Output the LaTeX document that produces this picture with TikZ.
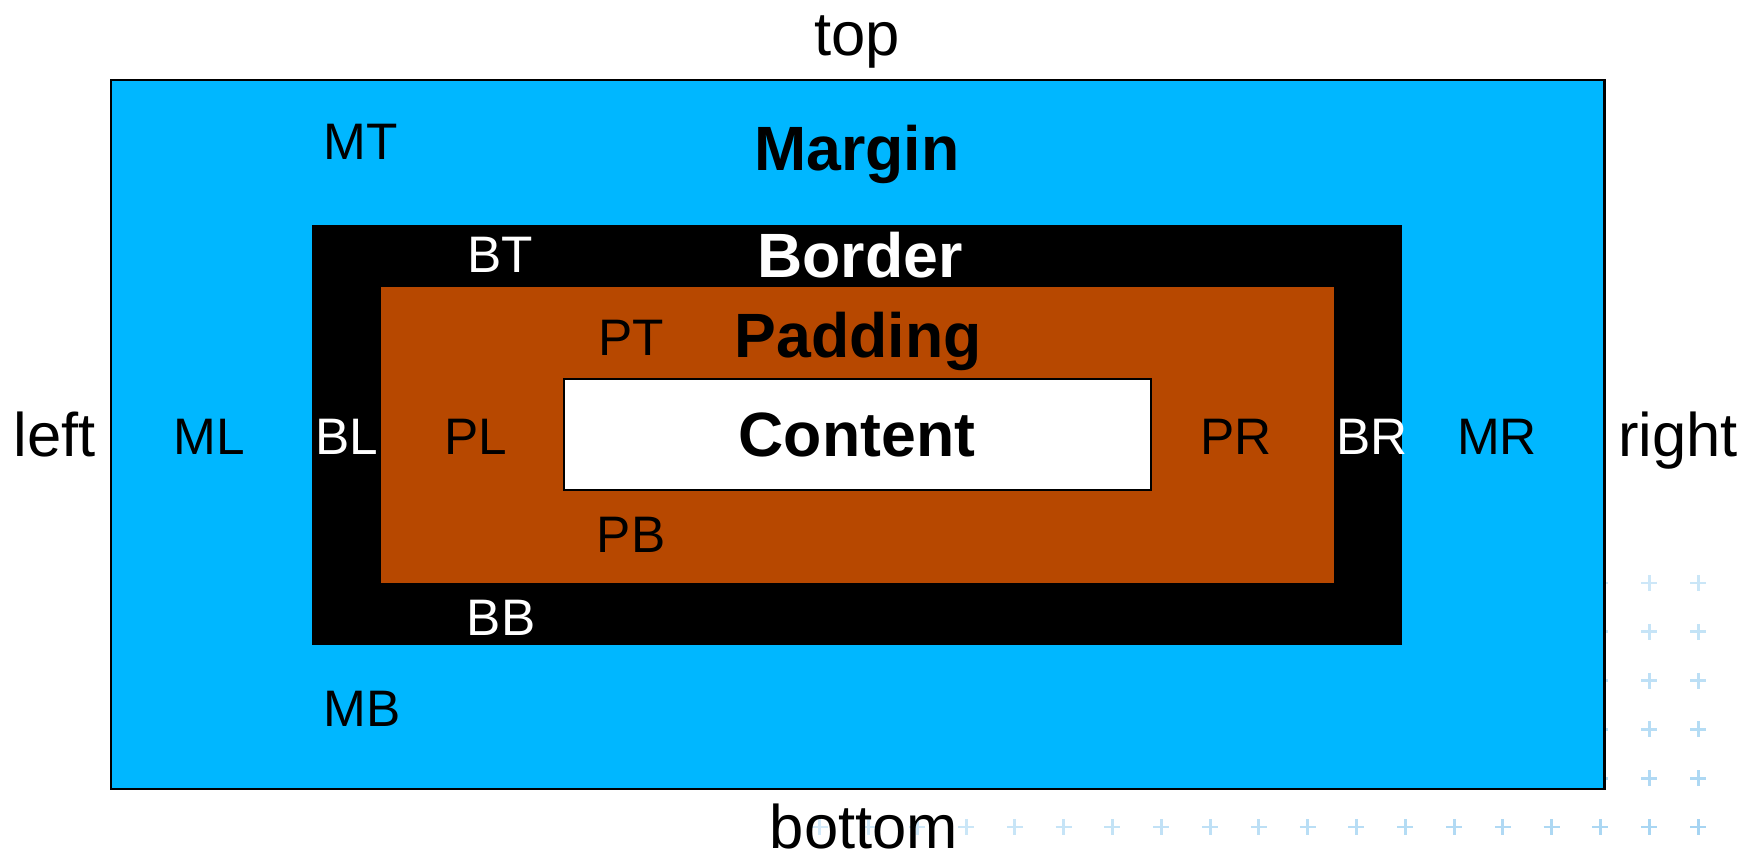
\documentclass[tikz,border=0pt]{standalone}
\usepackage{fontspec}
\setmainfont{Liberation Sans}
\usepackage{tikz}
\usetikzlibrary{positioning}
\usepackage{xcolor}

\definecolor{marginblue}{RGB}{0,183,255}
\definecolor{paddingbrown}{RGB}{183,72,0}
\definecolor{crossblue}{RGB}{150,205,240}

\begin{document}
\begin{tikzpicture}[x=0.01cm,y=-0.01cm,
        box/.style={rectangle,inner sep=0pt,outer sep=0pt},
        side/.style={anchor=base,inner sep=0pt,font=\fontsize{17.5}{20}\selectfont},
        part/.style={anchor=base,inner sep=0pt,font=\fontsize{14.6}{17}\selectfont},
        title/.style={anchor=base,inner sep=0pt,font=\fontsize{17.8}{20}\selectfont\bfseries},
        cross/.style={draw=crossblue,line width=0.85pt}]

    \useasboundingbox (0,0) rectangle (1745,852);

    % faint grid in the corner
    \foreach \i in {-3,...,15}{
        \foreach \j in {0,...,5}{
            \pgfmathsetmacro\op{max(0.05,0.15+0.35*\i/15+0.35*\j/5)}
            \draw[cross,opacity=\op] (966+48.8*\i,583+48.8*\j) ++(-8,0) -- ++(16,0)
                ++(-8,-8) -- ++(0,16);
        }
    }

    \node[box,fill=marginblue,draw=black,line width=0.6pt,
        minimum width=14.93cm,minimum height=7.09cm] (margin) at (857.5,434.5) {};
    \node[box,fill=black,minimum width=10.9cm,minimum height=4.2cm] (border) at (857,435) {};
    \node[box,fill=paddingbrown,minimum width=9.53cm,minimum height=2.96cm] (padding) at (857.5,435) {};
    \node[box,fill=white,draw=black,line width=0.5pt,
        minimum width=5.87cm,minimum height=1.11cm] (content) at (857.5,434.5) {};

    \node[side] (top) at (857,56) {top};
    \node[side] (bottom) at (864,848) {bottom};
    \node[side] (left) at (55,457) {left};
    \node[side] (right) at (1678,457) {right};

    \node[title] (margintitle) at (857,171) {Margin};
    \node[title,text=white] (bordertitle) at (860,278) {Border};
    \node[title] (paddingtitle) at (858,358) {Padding};
    \node[title] (contenttitle) at (857,457) {Content};

    \node[part] (mt) at (361,160) {MT};
    \node[part] (mb) at (362,726) {MB};
    \node[part] (ml) at (209,455) {ML};
    \node[part] (mr) at (1497,455) {MR};
    \node[part,text=white] (bt) at (500,273) {BT};
    \node[part,text=white] (bb) at (501,636) {BB};
    \node[part,text=white] (bl) at (347,455) {BL};
    \node[part,text=white] (br) at (1372,455) {BR};
    \node[part] (pt) at (631,356) {PT};
    \node[part] (pb) at (631,553) {PB};
    \node[part] (pl) at (476,455) {PL};
    \node[part] (pr) at (1236,455) {PR};

\end{tikzpicture}
\end{document}
